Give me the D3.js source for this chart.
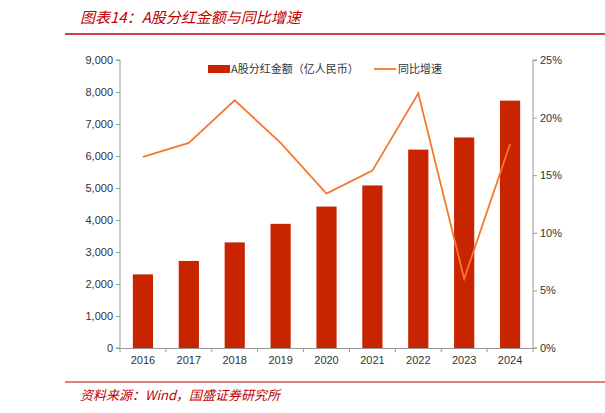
<!DOCTYPE html>
<html><head><meta charset="utf-8">
<script src="https://cdn.jsdelivr.net/npm/d3@7"></script>
<style>body{margin:0;background:#fff}svg{display:block;font-family:"Liberation Sans","Noto Sans CJK SC",sans-serif}</style>
</head><body><svg id="c" width="605" height="413"></svg>
<script>
let years = ['2016','2017','2018','2019','2020','2021','2022','2023','2024']
let amounts = [2300, 2720, 3300, 3880, 4420, 5080, 6200, 6580, 7730]
let growth = [16.6, 17.8, 21.5, 17.8, 13.4, 15.4, 22.1, 6.0, 17.7]
let leftTicks = [0,1000,2000,3000,4000,5000,6000,7000,8000,9000]
let rightTicks = [0,5,10,15,20,25]

let svg = d3.select('#c')
let m = {l:120, r:533, t:60, b:348}

svg.append('text').attr('x', 80).attr('y', 23).attr('fill', '#c00000')
    .attr('font-size', 15).attr('font-style', 'italic')
    .attr('font-family', '"Noto Sans CJK SC",sans-serif')
    .text('图表14：A股分红金额与同比增速')
svg.append('line').attr('x1', 65).attr('x2', 605).attr('y1', 34).attr('y2', 34)
    .attr('stroke', '#c00000').attr('stroke-width', 1.5)
svg.append('line').attr('x1', 65).attr('x2', 605).attr('y1', 382).attr('y2', 382)
    .attr('stroke', '#c00000').attr('stroke-width', 1)
svg.append('text').attr('x', 80).attr('y', 400).attr('fill', '#c00000')
    .attr('font-size', 13).attr('font-style', 'italic')
    .attr('font-family', '"Noto Sans CJK SC",sans-serif')
    .text('资料来源：Wind，国盛证券研究所')

let x = d3.scaleBand().domain(years).range([m.l, m.r]).paddingInner(0.56).paddingOuter(0.28)
let y = d3.scaleLinear().domain([0, 9000]).range([m.b, m.t])
let y2 = d3.scaleLinear().domain([0, 25]).range([m.b, m.t])

let la = svg.append('g').attr('transform', `translate(${m.l},0)`)
    .call(d3.axisLeft(y).tickValues(leftTicks).tickFormat(d3.format(',')).tickSize(4))
let ra = svg.append('g').attr('transform', `translate(${m.r},0)`)
    .call(d3.axisRight(y2).tickValues(rightTicks).tickFormat(d => d + '%').tickSize(4))
let ba = svg.append('g').attr('transform', `translate(0,${m.b})`)
    .call(d3.axisBottom(x).tickSize(0).tickPadding(8))
let xe = d3.scaleLinear().domain([0, 9]).range([m.l, m.r])
ba.selectAll('.sep').data(d3.range(10)).enter().append('line')
    .attr('x1', d => xe(d)).attr('x2', d => xe(d)).attr('y1', 0).attr('y2', 4).attr('stroke', '#999')
for (let a of [la, ra, ba]) {
    a.selectAll('path,line').attr('stroke', '#999')
    a.selectAll('text').attr('fill', '#333').attr('font-size', 11)
}
la.select('.domain').attr('d', `M-4,${m.t}H0V${m.b}H-4`)
ra.select('.domain').attr('d', `M4,${m.t}H0V${m.b}H4`)

svg.selectAll('.bar').data(amounts).enter().append('rect')
    .attr('x', (d, i) => x(years[i])).attr('width', x.bandwidth())
    .attr('y', d => y(d)).attr('height', d => m.b - y(d)).attr('fill', '#c82400')

svg.append('path').datum(growth)
    .attr('d', d3.line().x((d, i) => x(years[i]) + x.bandwidth() / 2).y(d => y2(d)))
    .attr('fill', 'none').attr('stroke', '#f7772f').attr('stroke-width', 1.8)

let lg = svg.append('g').attr('font-size', 11).attr('fill', '#333')
    .attr('font-family', '"Noto Sans CJK SC",sans-serif')
lg.append('rect').attr('x', 208).attr('y', 65).attr('width', 22).attr('height', 8).attr('fill', '#c82400')
lg.append('text').attr('x', 231).attr('y', 73).text('A股分红金额（亿人民币）')
lg.append('line').attr('x1', 374).attr('x2', 396).attr('y1', 69).attr('y2', 69)
    .attr('stroke', '#f7772f').attr('stroke-width', 1.8)
lg.append('text').attr('x', 398).attr('y', 73).text('同比增速')
</script></body></html>
